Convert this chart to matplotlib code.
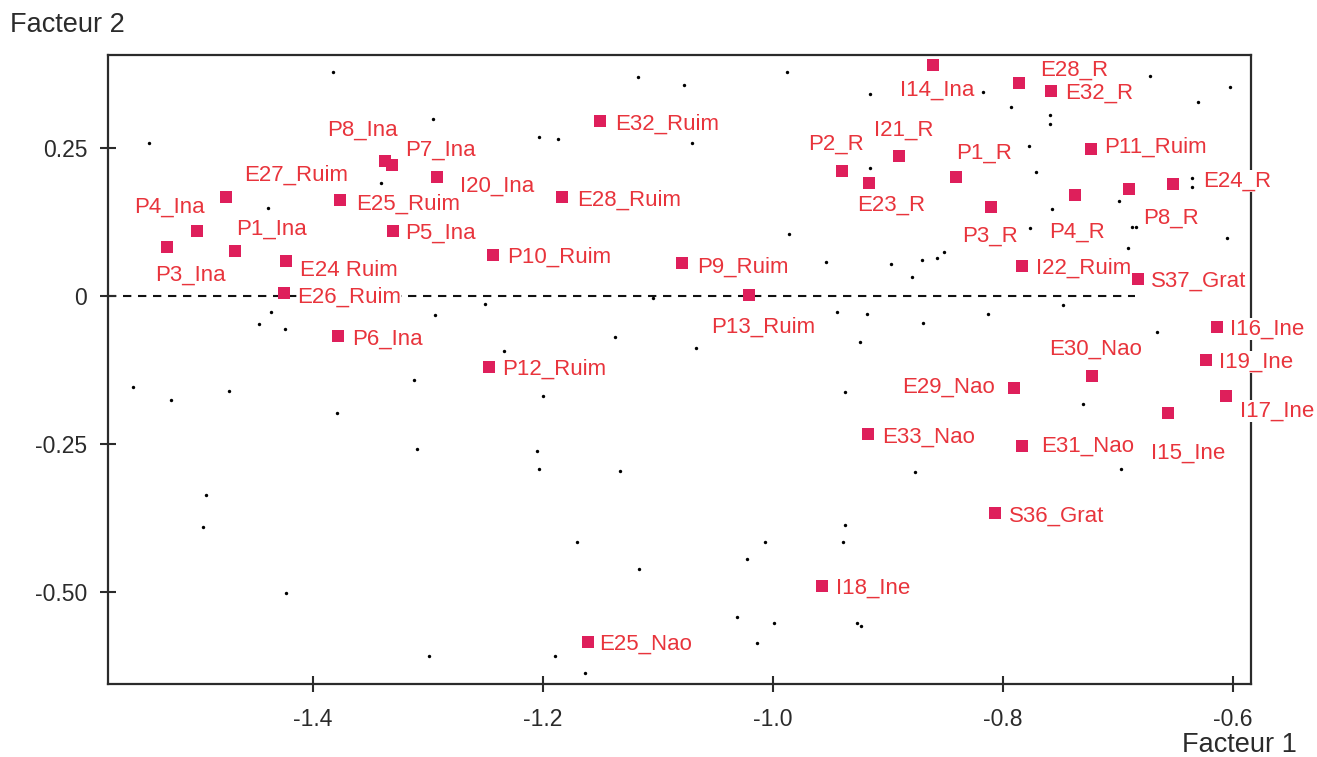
# Factor plane (Facteur 1 x Facteur 2) with labelled modalities
import matplotlib
matplotlib.use('Agg')
import matplotlib.pyplot as plt

plt.rcParams['font.family'] = ['Liberation Sans', 'DejaVu Sans']

# Labelled modalities (coordinates)
labels = ['P3_Ina', 'P4_Ina', 'E27_Ruim', 'P1_Ina', 'E24 Ruim', 'E26_Ruim',
          'E25_Ruim', 'P8_Ina', 'P7_Ina', 'P5_Ina', 'I20_Ina', 'E32_Ruim',
          'E28_Ruim', 'P10_Ruim', 'P9_Ruim', 'P13_Ruim', 'P2_R', 'E23_R',
          'I14_Ina', 'E28_R', 'E32_R', 'I21_R', 'P1_R', 'P11_Ruim', 'P3_R',
          'P4_R', 'P8_R', 'E24_R', 'I22_Ruim', 'S37_Grat', 'P6_Ina',
          'P12_Ruim', 'E25_Nao', 'I18_Ine', 'E33_Nao', 'I16_Ine', 'I19_Ine',
          'I17_Ine', 'I15_Ine', 'E30_Nao', 'E29_Nao', 'E31_Nao', 'S36_Grat']
f1 = [-1.527, -1.501, -1.475, -1.468, -1.423, -1.425,
      -1.376, -1.337, -1.331, -1.330, -1.292, -1.150,
      -1.183, -1.243, -1.079, -1.021, -0.940, -0.916,
      -0.861, -0.786, -0.758, -0.890, -0.841, -0.723, -0.810,
      -0.737, -0.690, -0.652, -0.783, -0.682, -1.378,
      -1.247, -1.161, -0.957, -0.917, -0.614, -0.623,
      -0.606, -0.656, -0.722, -0.790, -0.783, -0.807]
f2 = [0.083, 0.110, 0.167, 0.076, 0.059, 0.005,
      0.162, 0.228, 0.222, 0.110, 0.201, 0.296,
      0.167, 0.069, 0.056, 0.002, 0.211, 0.191,
      0.391, 0.360, 0.347, 0.237, 0.201, 0.249, 0.151,
      0.171, 0.181, 0.189, 0.051, 0.029, -0.068,
      -0.120, -0.585, -0.491, -0.233, -0.052, -0.108,
      -0.169, -0.198, -0.135, -0.156, -0.254, -0.367]

# label offsets (pixels): left edge / vertical centre relative to marker
lab_dx = [-12, -62, 18, 2, 14, 13,
          16, -58, 13, 12, 23, 15,
          15, 14, 15, -37, -34, -12,
          -33, 21, 14, -25, 1, 13, -29,
          -26, 14, 30, 14, 13, 14,
          13, 12, 14, 14, 13, 13,
          14, -17, -43, -112, 19, 14]
lab_dy = [-28, 24, 22, 22, -9, -4,
          -4, 31, 15, -2, -9, -3,
          -3, -2, -4, -32, 27, -22,
          -25, 13, -2, 26, 24, 2, -29,
          -37, -29, 3, -2, -2, -3,
          -2, -2, -2, -3, -2, -2,
          -15, -40, 27, 1, 0, -3]

# Individuals (small black dots)
ind_f1 = [-1.382, -1.542, -1.295, -1.341, -1.439, -1.436, -1.294, -1.117,
          -1.077, -0.988, -0.915, -1.203, -1.187, -1.070, -0.915, -0.986,
          -0.954, -1.104, -1.250, -0.944, -0.918, -0.817, -0.793, -0.759,
          -0.759, -0.672, -0.602, -0.630, -0.777, -0.771, -0.635, -0.635,
          -0.699, -0.757, -0.776, -0.688, -0.684, -0.605, -0.691, -0.851,
          -0.857, -0.870, -0.897, -0.879, -0.748, -0.813, -1.447, -1.424,
          -1.556, -1.523, -1.473, -1.379, -1.312, -1.309, -1.493, -1.495,
          -1.423, -1.299, -1.137, -1.067, -1.234, -0.924, -1.200, -0.937,
          -1.205, -1.203, -1.133, -1.170, -1.007, -0.937, -0.939, -1.022,
          -1.116, -1.031, -0.999, -0.927, -0.923, -1.014, -1.189, -1.163,
          -0.869, -0.666, -0.730, -0.876, -0.697]
ind_f2 = [0.379, 0.259, 0.299, 0.191, 0.149, -0.027, -0.032, 0.370,
          0.357, 0.379, 0.342, 0.269, 0.266, 0.259, 0.217, 0.105,
          0.058, -0.003, -0.014, -0.027, -0.030, 0.345, 0.320, 0.306,
          0.291, 0.372, 0.354, 0.328, 0.254, 0.210, 0.200, 0.184,
          0.161, 0.147, 0.115, 0.117, 0.117, 0.098, 0.081, 0.074,
          0.064, 0.061, 0.054, 0.032, -0.015, -0.030, -0.047, -0.056,
          -0.154, -0.176, -0.161, -0.198, -0.142, -0.259, -0.337, -0.391,
          -0.502, -0.609, -0.069, -0.088, -0.093, -0.078, -0.169, -0.162,
          -0.262, -0.293, -0.296, -0.416, -0.416, -0.387, -0.416, -0.445,
          -0.462, -0.543, -0.553, -0.553, -0.558, -0.587, -0.609, -0.638,
          -0.046, -0.061, -0.183, -0.298, -0.293]

x_ticks = [-1.4, -1.2, -1.0, -0.8, -0.6]
x_ticklabels = ['-1.4', '-1.2', '-1.0', '-0.8', '-0.6']
y_ticks = [-0.50, -0.25, 0, 0.25]
y_ticklabels = ['-0.50', '-0.25', '0', '0.25']

mark_col = '#DE1F5B'
text_col = '#E8343C'
ink = '#2b2b2b'

fig = plt.figure(figsize=(13.17, 7.57), dpi=100)
ax = fig.add_axes([0.082, 0.0964, 0.868, 0.831])
ax.set_xlim(-1.578, -0.584)
ax.set_ylim(-0.656, 0.4076)

# horizontal reference line
ax.hlines(0, -1.578, -0.685, colors='#111111', linestyles=(0, (4.0, 3.2)),
          linewidth=1.5, zorder=1)

ax.scatter(ind_f1, ind_f2, s=6, color='black', linewidths=0, zorder=2)
ax.scatter(f1, f2, s=85, marker='s', color=mark_col, linewidths=0, zorder=6)

for lab, x, y, dx, dy in zip(labels, f1, f2, lab_dx, lab_dy):
    ax.annotate(lab, (x, y), xytext=(dx, dy), textcoords='offset pixels',
                ha='left', va='center', fontsize=16, color=text_col,
                annotation_clip=False, zorder=5,
                bbox=dict(facecolor='white', edgecolor='none', pad=0.3))

for s in ax.spines.values():
    s.set_linewidth(1.6)
    s.set_color(ink)
    s.set_zorder(3)

ax.set_xticks(x_ticks)
ax.set_xticklabels(x_ticklabels)
ax.set_yticks(y_ticks)
ax.set_yticklabels(y_ticklabels)
ax.tick_params(direction='inout', length=12, width=1.5, color=ink,
               labelsize=16.5, labelcolor=ink)
ax.tick_params(axis='x', pad=11)
ax.tick_params(axis='y', pad=9)

fig.text(10 / 1317, 1 - 25 / 757, 'Facteur 2', fontsize=19.5, color=ink,
         ha='left', va='center')
fig.text(1297 / 1317, 1 - 745 / 757, 'Facteur 1', fontsize=19.5, color=ink,
         ha='right', va='center')

plt.savefig('out.png', dpi=100)
